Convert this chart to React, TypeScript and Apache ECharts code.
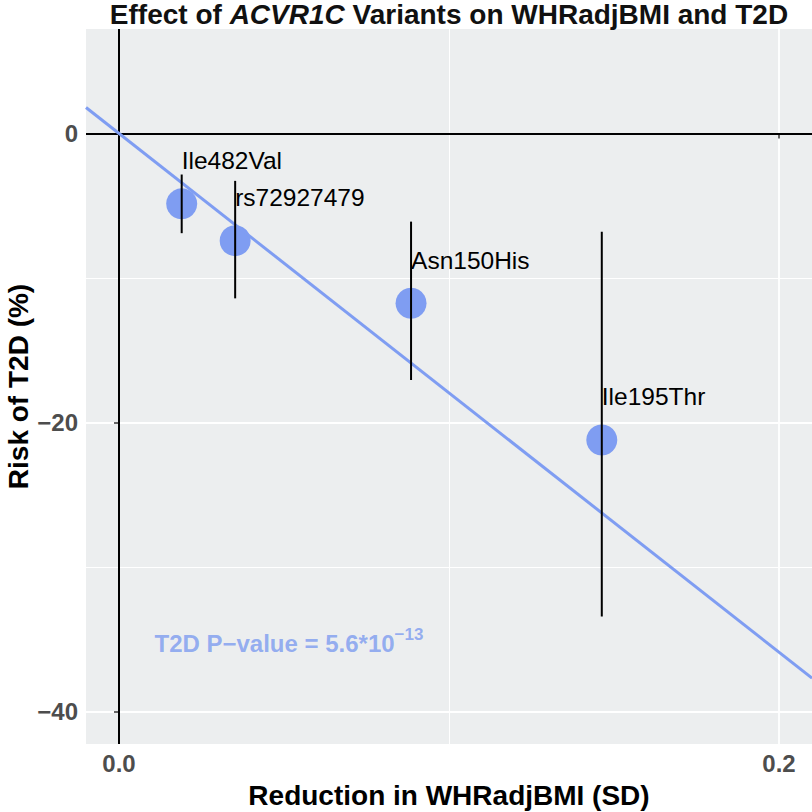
import React, { useEffect, useRef } from "react";
import * as echarts from "echarts";

// ---- data ----
const variants = ["Ile482Val", "rs72927479", "Asn150His", "Ile195Thr"];
const whrReduction = [0.019, 0.0352, 0.0885, 0.1463];
const t2dRisk = [-4.87, -7.42, -11.75, -21.21];
const ciLow = [-6.9, -11.41, -17.06, -33.43];
const ciHigh = [-2.84, -3.28, -6.1, -6.8];

const regressionSlope = -179.5; // % per SD, through origin
const xRange = [-0.01, 0.21];
const yRange = [-42.25, 7.23];

const xMajorTicks = [0, 0.2];
const xMinorTicks = [0.1];
const yMajorTicks = [-40, -20, 0];
const yMinorTicks = [-30, -10];
const refLinesX = [0];
const refLinesY = [0];

const annotationAnchor = [0.0515, -35.1];
const annotationMain = "T2D P\u2212value = 5.6*10";
const annotationSup = "\u221213";

const BLUE = "#7f9df2";
const FONT = "'Liberation Sans', Arial, Helvetica, sans-serif";

export default function App() {
  const ref = useRef<HTMLDivElement>(null);

  useEffect(() => {
    if (!ref.current) return;
    const chart = echarts.init(ref.current, undefined, { renderer: "svg" });

    const major = { color: "#ffffff", width: 1.8, type: "solid" };
    const minor = { color: "#ffffff", width: 1, type: "solid" };
    const gridLines = [
      ...xMajorTicks.filter((v) => !refLinesX.includes(v)).map((v) => ({ xAxis: v, lineStyle: major })),
      ...xMinorTicks.map((v) => ({ xAxis: v, lineStyle: minor })),
      ...yMajorTicks.filter((v) => !refLinesY.includes(v)).map((v) => ({ yAxis: v, lineStyle: major })),
      ...yMinorTicks.map((v) => ({ yAxis: v, lineStyle: minor })),
    ];

    const pointData = variants.map((name, i) => ({ name, value: [whrReduction[i], t2dRisk[i]] }));
    const errData = variants.map((_, i) => [whrReduction[i], ciLow[i], ciHigh[i]]);

    const option: any = {
      animation: false,
      backgroundColor: "#ffffff",
      textStyle: { fontFamily: FONT },
      grid: {
        left: 86,
        top: 29,
        right: 0,
        bottom: 68,
        show: true,
        backgroundColor: "#eceeef",
        borderWidth: 0,
        containLabel: false,
        outerBoundsMode: "none",
      },
      xAxis: {
        type: "value",
        min: xRange[0],
        max: xRange[1],
        name: "Reduction in WHRadjBMI (SD)",
        nameLocation: "middle",
        nameGap: 37,
        nameMoveOverlap: false,
        nameTextStyle: { fontFamily: FONT, fontSize: 28, fontWeight: "bold", color: "#000000" },
        axisLine: { show: false },
        splitLine: { show: false },
        axisTick: { show: true, length: 5, lineStyle: { color: "#333333", width: 1.5 }, customValues: xMajorTicks },
        axisLabel: {
          customValues: xMajorTicks,
          formatter: (v: number) => v.toFixed(1),
          fontFamily: FONT,
          fontSize: 24,
          fontWeight: "bold",
          color: "#4d4d4d",
          margin: 7,
        },
      },
      yAxis: {
        type: "value",
        min: yRange[0],
        max: yRange[1],
        name: "Risk of T2D (%)",
        nameLocation: "middle",
        nameGap: 54,
        nameRotate: 90,
        nameMoveOverlap: false,
        nameTextStyle: { fontFamily: FONT, fontSize: 28, fontWeight: "bold", color: "#000000" },
        axisLine: { show: false },
        splitLine: { show: false },
        axisTick: { show: true, length: 5, lineStyle: { color: "#333333", width: 1.5 }, customValues: yMajorTicks },
        axisLabel: {
          customValues: yMajorTicks,
          formatter: (v: number) => (v < 0 ? "\u2212" + Math.abs(v) : String(v)),
          fontFamily: FONT,
          fontSize: 24,
          fontWeight: "bold",
          color: "#4d4d4d",
          margin: 8,
        },
      },
      graphic: [
        {
          type: "text",
          x: 449,
          y: 0,
          style: {
            text: "{b|Effect of }{i|ACVR1C}{b| Variants on WHRadjBMI and T2D}",
            align: "center",
            verticalAlign: "top",
            rich: {
              b: { fontFamily: FONT, fontSize: 28, fontWeight: "bold", fill: "#111111" },
              i: { fontFamily: FONT, fontSize: 28, fontWeight: "bold", fontStyle: "italic", fill: "#111111" },
            },
          },
        },
      ],
      series: [
        {
          type: "line",
          name: "grid",
          data: [],
          z: 0,
          silent: true,
          markLine: { symbol: "none", silent: true, z: 0, label: { show: false }, data: gridLines },
        },
        {
          type: "scatter",
          name: "variants",
          z: 2,
          symbolSize: 31,
          itemStyle: { color: BLUE, opacity: 1 },
          data: pointData,
          label: {
            show: true,
            formatter: (p: any) => p.name,
            position: [15.5, -15],
            align: "left",
            verticalAlign: "bottom",
            fontFamily: FONT,
            fontSize: 24.5,
            color: "#000000",
          },
        },
        {
          type: "line",
          name: "fit",
          z: 3,
          symbol: "none",
          lineStyle: { color: BLUE, width: 3 },
          data: [
            [xRange[0], regressionSlope * xRange[0]],
            [xRange[1], regressionSlope * xRange[1]],
          ],
          markLine: {
            symbol: "none",
            silent: true,
            z: 3,
            label: { show: false },
            lineStyle: { color: "#000000", width: 2, type: "solid" },
            data: [...refLinesX.map((v) => ({ xAxis: v })), ...refLinesY.map((v) => ({ yAxis: v }))],
          },
        },
        {
          type: "custom",
          name: "ci",
          z: 4,
          data: errData,
          encode: { x: 0, y: [1, 2] },
          renderItem: (params: any, api: any) => {
            const x = api.value(0);
            const p1 = api.coord([x, api.value(1)]);
            const p2 = api.coord([x, api.value(2)]);
            return {
              type: "line",
              shape: { x1: p1[0], y1: p1[1], x2: p2[0], y2: p2[1] },
              style: { stroke: "#000000", lineWidth: 2 },
            };
          },
        },
        {
          type: "scatter",
          name: "annotation",
          z: 5,
          symbolSize: 0,
          silent: true,
          data: [annotationAnchor],
          label: {
            show: true,
            position: "inside",
            formatter: "{m|" + annotationMain + "}{s|" + annotationSup + "}",
            rich: {
              m: { fontFamily: FONT, fontSize: 24, fontWeight: "bold", color: "#7c9bf0", lineHeight: 30, verticalAlign: "bottom" },
              s: { fontFamily: FONT, fontSize: 17, fontWeight: "bold", color: "#7c9bf0", lineHeight: 17, verticalAlign: "top" },
            },
          },
        },
      ],
    };

    chart.setOption(option);
    return () => chart.dispose();
  }, []);

  return <div ref={ref} style={{ width: 812, height: 812, position: "absolute", left: 0, top: 0 }} />;
}
